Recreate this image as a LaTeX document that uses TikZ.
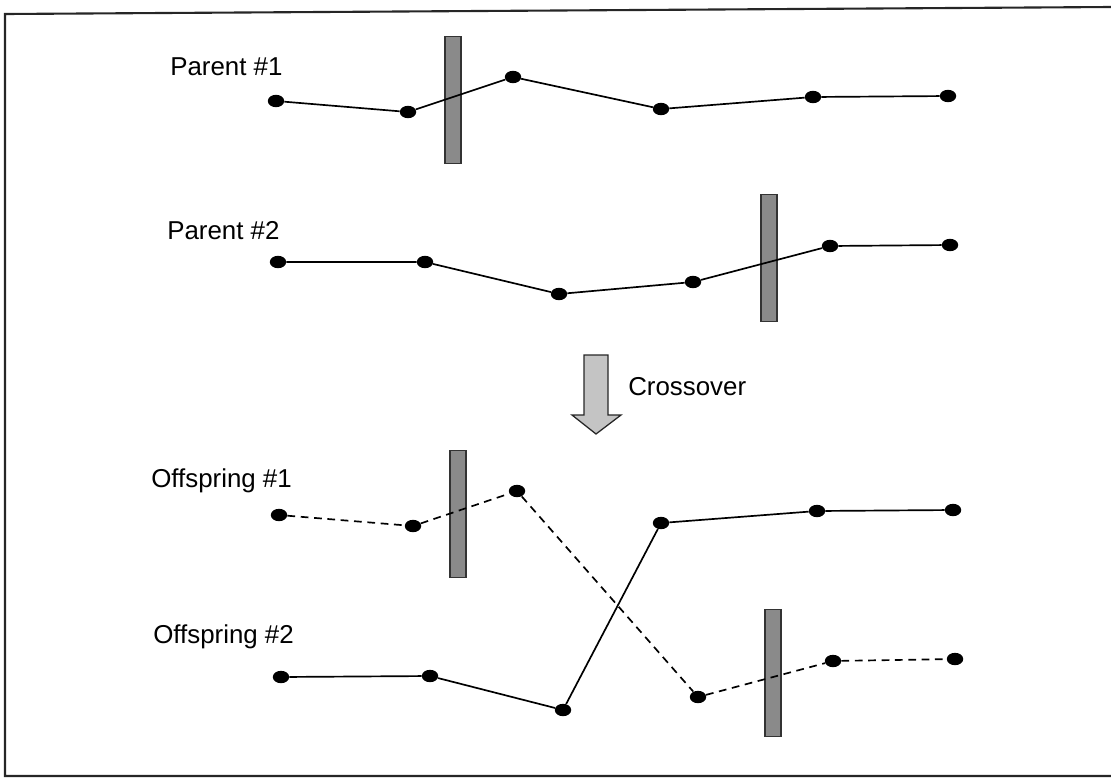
\documentclass[tikz,border=0pt]{standalone}
\usepackage{fontspec}
\setmainfont{Liberation Sans}
\usetikzlibrary{shapes.geometric}
\definecolor{barfill}{HTML}{8A8A8A}
\definecolor{arrowfill}{HTML}{C4C4C4}
\tikzset{
  dot/.style={ellipse, fill=black, inner sep=0pt, minimum width=0.41cm, minimum height=0.31cm},
  cutbar/.style={rectangle, draw=black!80, line width=0.9pt, fill=barfill, inner sep=0pt, minimum width=0.4cm, minimum height=3.18cm},
  chain/.style={line width=1.2pt, black},
  dchain/.style={line width=1.2pt, black, dash pattern=on 5.5pt off 4pt},
  lbl/.style={anchor=base west, inner sep=0pt, font=\fontsize{18.4pt}{22pt}\selectfont},
  frame/.style={line width=1.5pt, black!85}
}
\begin{document}
\begin{tikzpicture}[x=0.025cm, y=-0.025cm]
\useasboundingbox (0,0) rectangle (1111,778);
% frame
\draw[frame] (1111,7) -- (5,14) -- (5,776) -- (1111,776);
% bars
\node[cutbar] (bar1) at (453,100) {};
\node[cutbar] (bar2) at (769,258) {};
\node[cutbar] (bar3) at (458,514) {};
\node[cutbar] (bar4) at (773,673) {};
% labels
\node[lbl] (lp1) at (170,75) {Parent \#1};
\node[lbl] (lp2) at (167,239) {Parent \#2};
\node[lbl] (lo1) at (151,487) {Offspring \#1};
\node[lbl] (lo2) at (153,643) {Offspring \#2};
\node[lbl] (lx) at (628,395) {Crossover};
% arrow
\draw[fill=arrowfill, draw=black!85, line width=0.9pt]
  (584,355) -- (608,355) -- (608,415) -- (621,415) -- (596,434) -- (572,415) -- (584,415) -- cycle;
% dots
\node[dot] (a1) at (276,101) {};
\node[dot] (a2) at (408,112) {};
\node[dot] (a3) at (513,77) {};
\node[dot] (a4) at (661,109) {};
\node[dot] (a5) at (813,97) {};
\node[dot] (a6) at (948,96) {};
\node[dot] (b1) at (278,262) {};
\node[dot] (b2) at (425,262) {};
\node[dot] (b3) at (559,294) {};
\node[dot] (b4) at (693,282) {};
\node[dot] (b5) at (830,246) {};
\node[dot] (b6) at (950,245) {};
\node[dot] (c1) at (279,515) {};
\node[dot] (c2) at (413,526) {};
\node[dot] (c3) at (517,491) {};
\node[dot] (c4) at (661,523) {};
\node[dot] (c5) at (817,511) {};
\node[dot] (c6) at (953,510) {};
\node[dot] (d1) at (281,677) {};
\node[dot] (d2) at (430,676) {};
\node[dot] (d3) at (563,710) {};
\node[dot] (d4) at (698,697) {};
\node[dot] (d5) at (833,661) {};
\node[dot] (d6) at (955,659) {};
% connectors
\draw[chain] (a1) -- (a2) -- (a3) -- (a4) -- (a5) -- (a6);
\draw[chain] (b1) -- (b2) -- (b3) -- (b4) -- (b5) -- (b6);
\draw[dchain] (c1) -- (c2) -- (c3) -- (d4) -- (d5) -- (d6);
\draw[chain] (d1) -- (d2) -- (d3) -- (c4) -- (c5) -- (c6);
\end{tikzpicture}
\end{document}
